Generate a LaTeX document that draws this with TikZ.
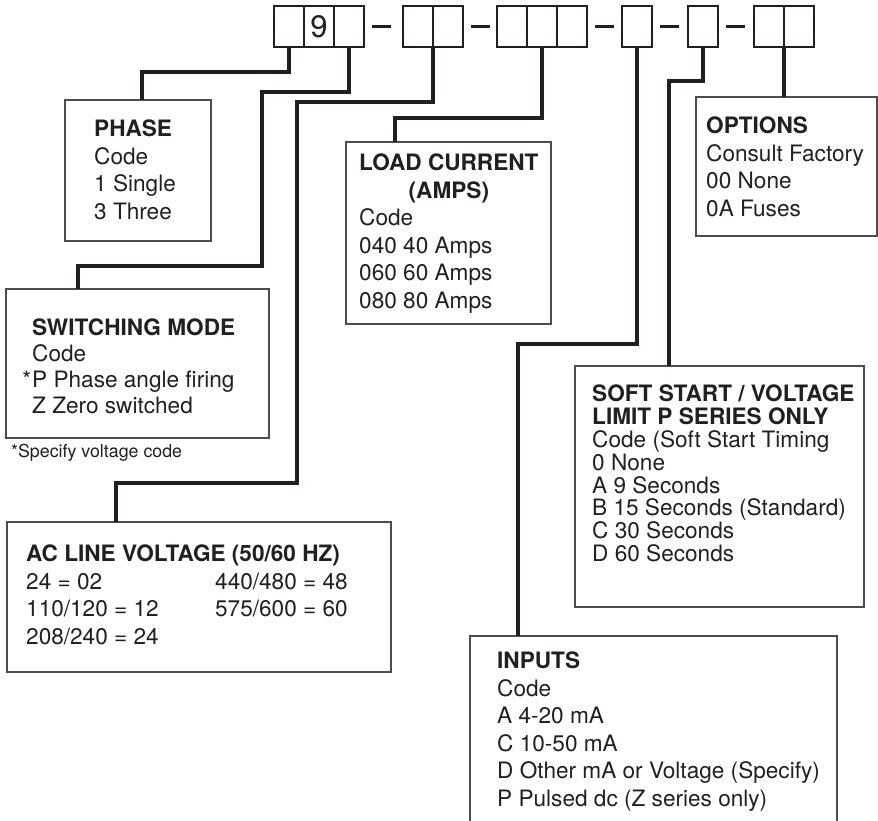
\documentclass[tikz,border=0pt]{standalone}
\usepackage{fontspec}
\setmainfont{TeX Gyre Heros}
\definecolor{ink}{HTML}{231F20}
\definecolor{rule}{HTML}{4D4D4D}
\tikzset{
  cell/.style={draw=ink, line width=2.6pt, minimum width=30pt, minimum height=41pt, inner sep=0pt, outer sep=0pt},
  codebox/.style={draw=rule, line width=1.2pt, anchor=north west, inner sep=0pt, outer sep=0pt},
  boxtext/.style={anchor=north west, inner sep=0pt, align=left, text=ink, font=\fontsize{22.6}{27.5}\selectfont},
  wire/.style={draw=ink, line width=3.2pt},
  dashline/.style={draw=ink, line width=2.6pt},
}

\begin{document}
\begin{tikzpicture}[x=1pt,y=-1pt]
  \useasboundingbox (0,0) rectangle (878,820);
  \foreach \x [count=\i] in {274,304,334,403,433,497,527,557,622,688,754,784}
    \node[cell] (c\i) at (\x+15,26.5) {};
  \node[text=ink, font=\fontsize{31}{31}\selectfont] (nine) at (c2) {9};
  \foreach \c in {c3,c5,c8,c9,c10}
    \draw[dashline] ([xshift=8pt]\c.east) -- ++(19,0);

  \node[codebox, minimum width=146pt, minimum height=141pt] (phase) at (65,100) {};
  \node[codebox, minimum width=263pt, minimum height=149pt] (sw) at (6,289) {};
  \node[codebox, minimum width=384pt, minimum height=150pt] (ac) at (7,522) {};
  \node[codebox, minimum width=205pt, minimum height=182pt] (load) at (346,142) {};
  \node[codebox, minimum width=181pt, minimum height=139pt] (opt) at (696,97) {};
  \node[codebox, minimum width=289pt, minimum height=241pt] (soft) at (575,366) {};
  \node[codebox, minimum width=367pt, minimum height=190pt] (inp) at (470,636) {};

  \node[boxtext] (phasetxt) at ([xshift=29pt,yshift=-20pt]phase.north west)
    {\textbf{PHASE}\\Code\\1 Single\\3 Three};
  \node[boxtext, font=\fontsize{22.6}{26}\selectfont] (swtxt) at ([xshift=26pt,yshift=-30pt]sw.north west)
    {\textbf{SWITCHING MODE}\\Code\\\llap{*\hspace{1pt}}P Phase angle firing\\Z Zero switched};
  \node[text=ink, anchor=west, inner sep=0pt, font=\fontsize{17.8}{20}\selectfont] (note) at ([xshift=5pt,yshift=-15pt]sw.south west)
    {*Specify voltage code};
  \node[boxtext] (actxt) at ([xshift=19pt,yshift=-20.5pt]ac.north west)
    {\begin{tabular}{@{}p{189pt}@{}l@{}}
      \multicolumn{2}{@{}l@{}}{\textbf{AC LINE VOLTAGE (50/60 HZ)}}\\
      24 = 02 & 440/480 = 48\\
      110/120 = 12 & 575/600 = 60\\
      208/240 = 24 &
    \end{tabular}};
  \node[boxtext] (loadtxt) at ([xshift=13pt,yshift=-9.5pt]load.north west)
    {\begin{tabular}{@{}l@{}}
      \multicolumn{1}{@{}c@{}}{\textbf{LOAD CURRENT}}\\
      \multicolumn{1}{@{}c@{}}{\textbf{(AMPS)}}\\
      Code\\040 40 Amps\\060 60 Amps\\080 80 Amps
    \end{tabular}};
  \node[boxtext] (opttxt) at ([xshift=10pt,yshift=-20pt]opt.north west)
    {\textbf{OPTIONS}\\Consult Factory\\00 None\\0A Fuses};
  \node[boxtext, font=\fontsize{22.6}{22.8}\selectfont] (softtxt) at ([xshift=17pt,yshift=-19pt]soft.north west)
    {\textbf{SOFT START / VOLTAGE}\\\textbf{LIMIT P SERIES ONLY}\\Code (Soft Start Timing\\0 None\\A 9 Seconds\\B 15 Seconds (Standard)\\C 30 Seconds\\D 60 Seconds};
  \node[boxtext] (inptxt) at ([xshift=27pt,yshift=-16pt]inp.north west)
    {\textbf{INPUTS}\\Code\\A 4-20 mA\\C 10-50 mA\\D Other mA or Voltage (Specify)\\P Pulsed dc (Z series only)};

  \draw[wire] (c1.south) -- ++(0,25) -| ([xshift=77pt]phase.north west);
  \draw[wire] (c3.south) |- (262,92) -- (262,266) -| ([xshift=72pt]sw.north west);
  \draw[wire] (c4.south east) |- (297,102) -- (297,483) -| ([xshift=109pt]ac.north west);
  \draw[wire] (c7.south) -- ++(0,71) -| ([xshift=49pt]load.north west);
  \draw[wire] (c9.south) -- ++(0,297) -| ([xshift=48pt]inp.north west);
  \draw[wire] (c10.south) -- ++(0,34) -| ([xshift=94pt]soft.north west);
  \draw[wire] (c11.south east) -- (c11.south east |- opt.north);
\end{tikzpicture}
\end{document}
